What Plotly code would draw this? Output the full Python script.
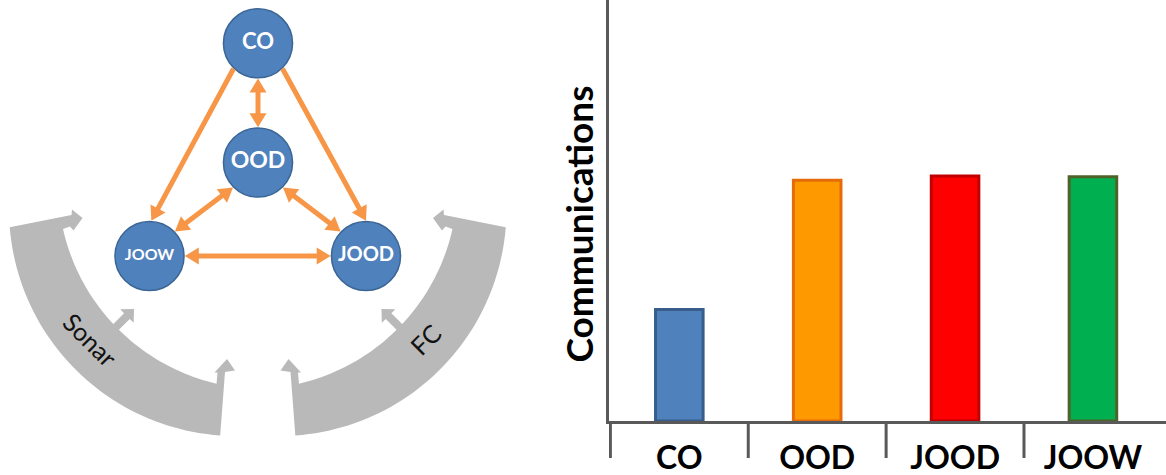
import math
import plotly.graph_objects as go

# ---------------- data ----------------
categories = ["CO", "OOD", "JOOD", "JOOW"]
communications = [26.5, 57.2, 58.2, 58.0]

node_names = ["CO", "OOD", "JOOW", "JOOD"]
links = [
    ("CO", "JOOW", "end"),
    ("CO", "JOOD", "end"),
    ("CO", "OOD", "both"),
    ("OOD", "JOOW", "both"),
    ("OOD", "JOOD", "both"),
    ("JOOW", "JOOD", "both"),
]
sensors = ["Sonar", "FC"]

# ---------------- styles ----------------
BAR_FILL = ["#4F81BD", "#FF9900", "#FF0000", "#00B050"]
BAR_EDGE = ["#385D8A", "#E46C0A", "#C00000", "#4F6228"]
NODE_FILL = "#4F81BD"
NODE_EDGE = "#3A6594"
LINK_COLOR = "#F79646"
BAND_COLOR = "#B9B9B9"
AXIS_COLOR = "#595959"
FONT = "Lato"

W, H = 1166, 475
DIAGRAM_W = 520
X_RANGE = [-0.51, 3.53]
BAR_BOTTOM = 54 / H          # bottom of the bar plot area, paper units
SEP_LEN = 37 / H             # length of the category separators below the axis

# diagram layout in pixel units (y grows downward)
NODE_XY = {"CO": (258, 43.3), "OOD": (258, 162.5), "JOOW": (149.5, 256), "JOOD": (366, 256)}
NODE_R = 35.3
NODE_FONT = {"CO": 22, "OOD": 23, "JOOW": 16, "JOOD": 20}
# angles (deg) where each link leaves / reaches the node rims
LINK_ANGLES = {
    ("CO", "JOOW"): (134, -87),
    ("CO", "JOOD"): (46, -90),
    ("CO", "OOD"): (90, -90),
    ("OOD", "JOOW"): (135, -44),
    ("OOD", "JOOD"): (45, -136),
    ("JOOW", "JOOD"): (0, 180),
}
HEAD_LEN, HEAD_HALF, LINK_W = 14, 8.5, 5

MIRROR_X = 515.5
# left sensor band: outer / inner arcs (center, radius, start deg, end deg)
BAND_OUTER = ((236, 209), 227, 175.4, 94.0)
BAND_INNER = ((263, 184), 205, 103.1, 167.3)
BAND_BOTTOM_TIP = [(225, 372), (235, 370.5), (227, 359), (214.5, 372.5), (217.5, 372.5)]
BAND_TOP_TIP = [(70, 226.5), (73.5, 230.5), (82.5, 218), (72, 209.5), (71.5, 215)]
BAND_MID_ARROW = ((100, 343), (134, 309))
SENSOR_LABEL_XY = (90, 339)


def rim(name, deg):
    cx, cy = NODE_XY[name]
    a = math.radians(deg)
    return cx + NODE_R * math.cos(a), cy + NODE_R * math.sin(a)


def unit(p, q):
    dx, dy = q[0] - p[0], q[1] - p[1]
    d = math.hypot(dx, dy)
    return dx / d, dy / d


def head(tip, tail):
    ux, uy = unit(tail, tip)
    bx, by = tip[0] - HEAD_LEN * ux, tip[1] - HEAD_LEN * uy
    nx, ny = -uy, ux
    return [tip, (bx + HEAD_HALF * nx, by + HEAD_HALF * ny), (bx - HEAD_HALF * nx, by - HEAD_HALF * ny)]


def path(points):
    return "M " + " L ".join(f"{x:.2f},{y:.2f}" for x, y in points) + " Z"


def arc(center, r, a0, a1, n=48):
    cx, cy = center
    out = []
    for i in range(n + 1):
        a = math.radians(a0 + (a1 - a0) * i / n)
        out.append((cx + r * math.cos(a), cy + r * math.sin(a)))
    return out


def block_arrow(base, tip, shaft=8, width=19, length=10):
    ux, uy = unit(base, tip)
    nx, ny = -uy, ux
    hb = (tip[0] - length * ux, tip[1] - length * uy)
    s, w = shaft / 2, width / 2
    return [
        (base[0] + s * nx, base[1] + s * ny),
        (hb[0] + s * nx, hb[1] + s * ny),
        (hb[0] + w * nx, hb[1] + w * ny),
        tip,
        (hb[0] - w * nx, hb[1] - w * ny),
        (hb[0] - s * nx, hb[1] - s * ny),
        (base[0] - s * nx, base[1] - s * ny),
    ]


def band_outline():
    pts = arc(*BAND_OUTER)
    pts += BAND_BOTTOM_TIP
    pts += arc(*BAND_INNER)
    pts += BAND_TOP_TIP
    return pts


def mirror(points):
    return [(MIRROR_X - x, y) for x, y in points]


fig = go.Figure()

# ---------------- bar chart ----------------
fig.add_trace(go.Bar(
    x=categories, y=communications, width=0.345,
    marker=dict(color=BAR_FILL, line=dict(color=BAR_EDGE, width=3)),
    hoverinfo="x+y", xaxis="x", yaxis="y",
))

shapes = []
# separators between categories, hanging below the category axis
for i in range(len(categories)):
    shapes.append(dict(type="line", xref="x", yref="paper", x0=i - 0.5, x1=i - 0.5,
                       y0=BAR_BOTTOM, y1=BAR_BOTTOM - SEP_LEN,
                       line=dict(color=AXIS_COLOR, width=3)))

# ---------------- network diagram ----------------
left_band = band_outline()
left_mid = block_arrow(*BAND_MID_ARROW)
for pts in (left_band, left_mid, mirror(left_band), mirror(left_mid)):
    shapes.append(dict(type="path", xref="x2", yref="y2", path=path(pts),
                       fillcolor=BAND_COLOR, line=dict(width=0), layer="below"))

for a, b, heads in links:
    a0, a1 = LINK_ANGLES[(a, b)]
    p0, p1 = rim(a, a0), rim(b, a1)
    ux, uy = unit(p0, p1)
    s0 = p0 if heads == "end" else (p0[0] + (HEAD_LEN - 3) * ux, p0[1] + (HEAD_LEN - 3) * uy)
    s1 = (p1[0] - (HEAD_LEN - 3) * ux, p1[1] - (HEAD_LEN - 3) * uy)
    shapes.append(dict(type="line", xref="x2", yref="y2", x0=s0[0], y0=s0[1], x1=s1[0], y1=s1[1],
                       line=dict(color=LINK_COLOR, width=LINK_W)))
    tips = [(p1, p0)] if heads == "end" else [(p1, p0), (p0, p1)]
    for tip, tail in tips:
        shapes.append(dict(type="path", xref="x2", yref="y2", path=path(head(tip, tail)),
                           fillcolor=LINK_COLOR, line=dict(width=0)))

fig.add_trace(go.Scatter(
    x=[NODE_XY[n][0] for n in node_names], y=[NODE_XY[n][1] for n in node_names],
    mode="markers+text", text=node_names, textposition="middle center",
    textfont=dict(family=FONT, weight="bold", color="white", size=[NODE_FONT[n] for n in node_names]),
    marker=dict(size=2 * NODE_R - 1.5, color=NODE_FILL, line=dict(color=NODE_EDGE, width=1.5)),
    hoverinfo="text", xaxis="x2", yaxis="y2", cliponaxis=False,
))

annotations = [
    dict(text="Communications", xref="paper", yref="paper", x=577.5 / W, y=1 - 224 / H,
         textangle=-90, showarrow=False, xanchor="center", yanchor="middle",
         font=dict(family=FONT, weight="bold", size=37, color="black")),
]
lx, ly = SENSOR_LABEL_XY
for name, (x, y, ang) in zip(sensors, [(lx, ly, 45), (MIRROR_X - lx, ly, -45)]):
    annotations.append(dict(text=name, xref="x2", yref="y2", x=x, y=y, textangle=ang,
                            showarrow=False, font=dict(family=FONT, size=25, color="#111111")))

fig.update_layout(
    width=W, height=H, margin=dict(l=0, r=0, t=0, b=0, autoexpand=False),
    paper_bgcolor="white", plot_bgcolor="white", showlegend=False,
    shapes=shapes, annotations=annotations,
    xaxis=dict(domain=[609 / W, 1], type="category", range=X_RANGE, automargin=False,
               showline=True, linecolor=AXIS_COLOR, linewidth=3,
               ticks="", ticklabelstandoff=7,
               tickfont=dict(family=FONT, weight="bold", size=32, color="black"),
               showgrid=False, zeroline=False, fixedrange=True),
    yaxis=dict(domain=[BAR_BOTTOM, 1], range=[0, 100], automargin=False,
               showline=True, linecolor=AXIS_COLOR, linewidth=3,
               ticks="", showticklabels=False, showgrid=False, zeroline=False, fixedrange=True),
    xaxis2=dict(domain=[0, DIAGRAM_W / W], range=[0, DIAGRAM_W], visible=False, fixedrange=True,
                anchor="y2", automargin=False),
    yaxis2=dict(domain=[0, 1], range=[H, 0], visible=False, fixedrange=True, anchor="x2",
                automargin=False),
)

fig.write_html("out.html")
